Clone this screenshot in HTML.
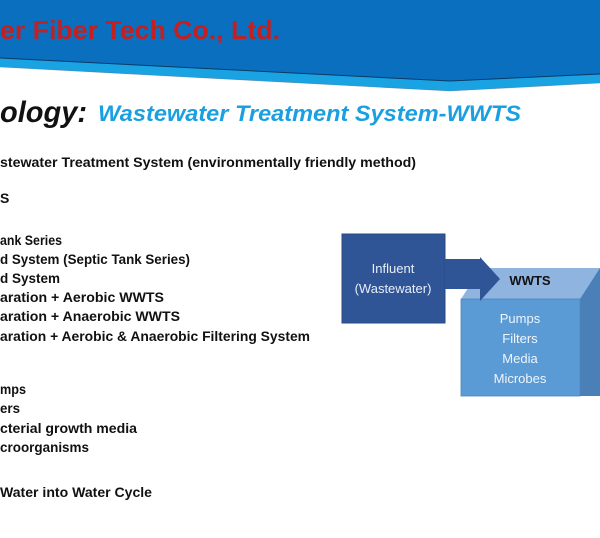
<!DOCTYPE html>
<html><head><meta charset="utf-8"><style>
html,body{margin:0;padding:0;background:#fff;width:600px;height:538px;overflow:hidden}
svg{display:block}
</style></head><body>
<svg width="600" height="538" viewBox="0 0 600 538" xmlns="http://www.w3.org/2000/svg" font-family="'Liberation Sans', sans-serif">
<polygon points="0,0 600,0 600,83 450,91 0,67" fill="#1aa3e3"/>
<polygon points="0,0 600,0 600,74 450,81 0,58" fill="#0a6fbf"/>
<polyline points="0,58 450,81 600,74" fill="none" stroke="#0b3a66" stroke-width="1"/>
<polyline points="0,67 450,91 600,83" fill="none" stroke="#4a6a8a" stroke-width="0.6" opacity="0.6"/>
<text x="0" y="39" font-size="26" font-weight="bold" fill="#c3201f" textLength="280" lengthAdjust="spacingAndGlyphs">er Fiber Tech Co., Ltd.</text>
<text x="0" y="122" font-size="30" font-weight="bold" font-style="italic" fill="#111" textLength="87" lengthAdjust="spacingAndGlyphs">ology:</text>
<text x="98" y="121" font-size="22" font-weight="bold" font-style="italic" fill="#1aa0e0" textLength="423" lengthAdjust="spacingAndGlyphs">Wastewater Treatment System-WWTS</text>
<g font-size="14" font-weight="bold" fill="#111">
<text x="0" y="167" textLength="416" lengthAdjust="spacingAndGlyphs">stewater Treatment System  (environmentally friendly method)</text>
<text x="0" y="203">S</text>
<text x="0" y="245" textLength="62" lengthAdjust="spacingAndGlyphs">ank Series</text>
<text x="0" y="264" textLength="190" lengthAdjust="spacingAndGlyphs">d System (Septic Tank Series)</text>
<text x="0" y="283" textLength="60" lengthAdjust="spacingAndGlyphs">d System</text>
<text x="0" y="302" textLength="164" lengthAdjust="spacingAndGlyphs">aration + Aerobic WWTS</text>
<text x="0" y="321" textLength="180" lengthAdjust="spacingAndGlyphs">aration + Anaerobic WWTS</text>
<text x="0" y="341" textLength="310" lengthAdjust="spacingAndGlyphs">aration + Aerobic &amp; Anaerobic Filtering System</text>
<text x="0" y="394" textLength="26" lengthAdjust="spacingAndGlyphs">mps</text>
<text x="0" y="413" textLength="20" lengthAdjust="spacingAndGlyphs">ers</text>
<text x="0" y="433" textLength="137" lengthAdjust="spacingAndGlyphs">cterial growth media</text>
<text x="0" y="452" textLength="89" lengthAdjust="spacingAndGlyphs">croorganisms</text>
<text x="0" y="497" textLength="152" lengthAdjust="spacingAndGlyphs">Water into Water Cycle</text>
</g>
<rect x="342" y="234" width="103" height="89" fill="#2f5597" stroke="#2a4a85"/>
<text x="393" y="273" font-size="13" fill="#e8eef8" text-anchor="middle">Influent</text>
<text x="393" y="293" font-size="13" fill="#e8eef8" text-anchor="middle">(Wastewater)</text>
<polygon points="461,299 481,268 600,268 600,299" fill="#8fb4e0"/>
<polygon points="580,299 600,268 600,396 580,396" fill="#4a7fb8"/>
<rect x="461" y="299" width="119" height="97" fill="#5b9bd5" stroke="#4d86bd" stroke-width="0.8"/>
<polygon points="445,259 480,259 480,257 500,279 480,301 480,289 445,289" fill="#2f5597"/>
<text x="530" y="285" font-size="13" font-weight="bold" fill="#111" text-anchor="middle">WWTS</text>
<g font-size="13" fill="#eef4fb" text-anchor="middle">
<text x="520" y="323">Pumps</text>
<text x="520" y="343">Filters</text>
<text x="520" y="363">Media</text>
<text x="520" y="383">Microbes</text>
</g>
</svg>
</body></html>
